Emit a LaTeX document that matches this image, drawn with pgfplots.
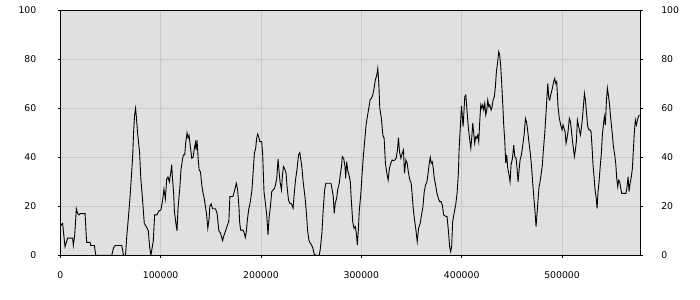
\documentclass[border=0pt]{standalone}
\usepackage{pgfplots}
\pgfplotsset{compat=1.18}
\usepackage{fontspec}
\setmainfont{DejaVu Sans}
\definecolor{bgc}{HTML}{E0E0E0}
\definecolor{gridc}{HTML}{C9C9C9}
\begin{document}
\begin{tikzpicture}
\pgfplotsset{
  common/.style={
    scale only axis, width=580bp, height=245bp,
    xmin=0, xmax=578000, ymin=0, ymax=100,
    ytick={0,20,40,60,80,100},
    xtick={0,100000,200000,300000,400000,500000},
    scaled x ticks=false,
    tick align=outside, major tick length=2.5bp,
    tick style={black, line width=0.6bp},
    /pgf/number format/fixed,
    /pgf/number format/1000 sep={},
    /pgf/number format/assume math mode=true,
    tick label style={font=\fontsize{9.3bp}{11bp}\selectfont, text=black},
  }
}
\begin{axis}[common,
  axis background/.style={fill=bgc},
  axis line style={black, line width=0.8bp},
  grid=major, major grid style={gridc, line width=0.9bp},
  xtick pos=bottom, ytick pos=left,
  xticklabel style={yshift=-10bp},
  yticklabel style={xshift=-18bp},
]
\addplot[black, line width=0.9bp, mark=none] coordinates {
(0,12) (2300,13) (4700,3.5) (7300,7) (9700,7) (12300,7) (13000,4) (14300,8) (16000,19) (17300,17) (18700,16.5) (19700,17) (24700,17) (25700,9) (26300,5.3) (29700,5.3) (30300,4) (34000,4) (35300,0)
(51300,0) (53000,3) (54700,4) (61300,4) (63000,0) (65000,0) (66300,8) (68000,16) (69700,25) (71300,35) (72300,42) (73000,50) (74000,57) (75000,60) (75700,57) (77000,50) (78000,46) (79000,42) (80300,31) (82000,22.6) (83700,13) (85700,11.7) (87700,10) (89000,3.5) (90300,0) (91700,3.5) (92700,6) (94000,16.5) (96300,16.5) (98000,18) (100300,18.5) (102000,22.6) (103300,27) (104700,23) (106000,31) (107300,32) (108700,30) (110000,33.5) (111000,37) (111700,32) (113000,25) (113700,18) (115000,13.7) (116300,10) (117300,19) (119000,27) (120300,35) (121700,39) (122700,41) (124000,41) (125000,46) (126300,50) (127300,48) (128300,49) (129700,44) (131000,39.6) (132300,40) (133700,44) (134700,46) (135300,43) (136300,47) (137300,40) (138300,35) (139700,34) (141000,28.7) (142000,26) (143700,22.6) (145700,17) (147000,11) (148300,15) (149000,20) (150300,21) (151700,19) (154700,19) (156300,17) (158000,10) (159700,9) (161700,6) (163000,8) (164700,10) (166300,12) (168000,14) (169000,24)
(172000,24) (173400,26) (175400,29.4) (176700,26.7) (178000,19.9) (178700,13.7) (179700,10.3) (182000,10.3) (183400,9) (184400,7.3) (185400,9.7) (186400,14.4) (187700,18.5) (189400,21.9) (191000,26.7) (192400,35.5) (193400,41.6) (194700,43.7) (195700,47.8) (196700,49.5) (197700,48.4) (198700,46.4) (200700,46.4) (201700,41) (203000,26) (204400,21.2) (205700,16.5) (207000,8.3) (208000,15.1) (209400,19.9) (210700,26) (212000,26.7) (213400,27.3) (214400,28.7) (215700,31.4) (217000,39.2) (218000,34.1) (219000,30) (220400,26.7) (221400,32.8) (222400,36.2) (223400,35.5) (225000,33.5) (226000,28) (227400,22.6) (228700,21.2) (230400,21) (232000,19.2) (233000,24.6) (234400,30.7) (236000,35.5) (237400,41) (238700,41.9) (239700,38.9) (240700,36.2) (242000,30) (244000,23.3) (245400,16.5) (246400,10.3) (247700,6.3) (248700,5.2) (250400,4.2) (251700,2.9) (253000,0.5) (254700,0) (258000,0) (259000,2.2) (260700,9) (262000,18.5) (263400,26.7) (264700,29.4) (269700,29.4) (270700,27.3) (272000,24) (273000,17.1) (274000,21.2) (275400,23.3) (276400,26.7) (278000,29.4) (279000,32.8) (280400,36.9) (281000,40.3) (282400,39.6) (283700,36.2) (284400,31.4) (285400,38.2) (286400,34.8) (287700,32.8) (289000,30) (290000,22.6) (291400,13.7) (292700,11) (294000,11.7) (295000,9) (296000,4.2) (297000,10.3) (298000,18.5) (299400,24.6) (300700,32.8) (302000,40.3) (303400,47) (304700,53.2) (306000,56.6) (307400,60) (308700,63.4) (310000,64.1) (311400,65.4) (312700,68.2) (314000,71.6) (315400,73.6) (316400,76.3) (317400,70.2) (318400,60) (320000,55.9) (321400,49.1) (322700,47.8) (324000,37.6) (325400,33.5) (326700,30.7) (328000,35.5) (329400,37.6) (330700,38.9) (332000,38.6) (333400,38.9) (334700,39.6) (336000,43) (337000,48) (338000,42.3) (339400,39.6) (340700,41.6) (342000,43) (343000,33.5) (344400,38.9) (345700,37.6) (347000,33.5) (348400,30.7) (349700,29.4) (350700,24.6) (351700,19.2) (353000,14.4) (354400,10.3) (355700,5.6) (357000,11) (358700,13.1) (360000,16.5) (361400,19.9) (362700,26) (364000,28.7) (365400,30) (366700,34.1) (367700,37.6) (368700,40) (369700,37.6) (370700,38.2) (371700,35.5) (372700,31.4) (374000,28.7) (375400,25.3) (376700,23.3) (378000,21.9) (379400,21.9) (380700,20.5) (382000,16.5) (383700,16) (385400,15.8) (386700,10.3) (388000,3.5) (389000,1.5) (390000,3.5) (391000,13.7) (392400,17.1) (394000,20.5) (395400,25.3) (396700,33.5) (397400,43)
(399800,61) (401400,52.5) (403100,64.8) (404100,65.4) (405400,58.6) (406700,51.8) (408100,47) (409100,43.7) (410100,48.4) (411000,53.9) (412000,49.8) (413000,45.7) (414000,48.4) (415000,47.8) (416000,49.1) (417000,46.4) (418000,54.6) (419000,61.4) (420000,60) (421000,61.4) (422000,59.3) (423000,62) (424000,57.3) (425000,59.3) (426000,63.4) (427000,60.7) (428000,61.4) (429300,59.3) (430300,60.7) (431300,63.4) (432600,64.8) (433600,68.8) (434600,75) (435900,79) (436900,83.1) (437900,81.8) (438900,77) (439900,70.2) (440900,62) (441900,53.2) (442900,47) (443900,37.6) (444900,41) (445900,35.5) (447200,32.8) (448200,30) (449200,36.9) (450600,39.6) (451900,45) (452900,40.3) (454200,39.6) (455200,35.5) (456200,30) (457200,34.8) (458200,38.9) (459500,41) (460900,45) (462200,49.1) (463500,55.9) (464500,54.6) (465500,51.8) (466800,47) (468200,42.3) (469500,36.9) (470800,29.4) (472100,22.6) (473100,17.8) (474100,11.7) (475100,17.1) (476100,22.6) (477100,28) (478100,30) (479100,32.8) (480400,36.9) (481400,43) (482800,49.8) (483800,56.6) (484800,63.4) (485800,70.2) (486800,64.1) (487700,63.4) (489100,66.1) (490400,68.2) (491700,70.9) (492700,72.2) (493700,70.2) (494700,70.9) (496000,60.7) (497300,55.9) (498700,53.2) (500000,51.2) (501000,53.2) (502000,51.8) (503000,50.5) (504000,45.7) (505000,47.8) (506000,50.5) (507300,55.9) (508300,54.6) (509300,51.2) (510300,47) (511300,43.7) (512300,40.3) (513300,43) (514300,46.4) (515300,55.2) (516300,53.2) (517300,51.2) (518300,49.1) (519300,51.8) (520300,55.9) (521300,60.7) (522300,66.1) (523300,63.4) (524300,58.6) (525600,52.5) (526900,51.2) (527900,51.2) (528900,50.5) (529900,44.4) (530900,36.9) (531900,32.1) (532900,26.7) (533900,24) (534900,19.2) (535900,26) (536900,30) (537900,35.5) (539200,41.6) (540200,49.1) (541200,53.2) (542200,56.6) (543200,53.2) (544200,62.7) (545200,68.2) (546200,65.4) (547200,62) (548200,57.3) (549200,53.2) (550200,49.1) (551200,44.4) (552500,41) (553500,37.6) (554500,31.4) (555500,28) (556500,30.7) (557500,30) (558500,27.3) (559500,25.3) (563800,25.3) (564800,28) (565800,32.1) (566800,26) (567800,29.4) (569100,32.1) (570100,35.5) (571100,43) (572100,50.5) (573100,55.2) (574100,53.2) (575100,55.2) (576100,56.6) (577100,57.3)
};
\end{axis}
\begin{axis}[common,
  axis x line=none, axis y line*=right,
  axis line style={draw=none},
  ytick pos=right, yticklabel pos=right,
  yticklabel style={anchor=west, xshift=15bp},
]
\end{axis}
\path ([shift={(-60.3bp,-44.7bp)}]current axis.south west) rectangle ([shift={(59.7bp,10.3bp)}]current axis.north east);
\end{tikzpicture}
\end{document}
